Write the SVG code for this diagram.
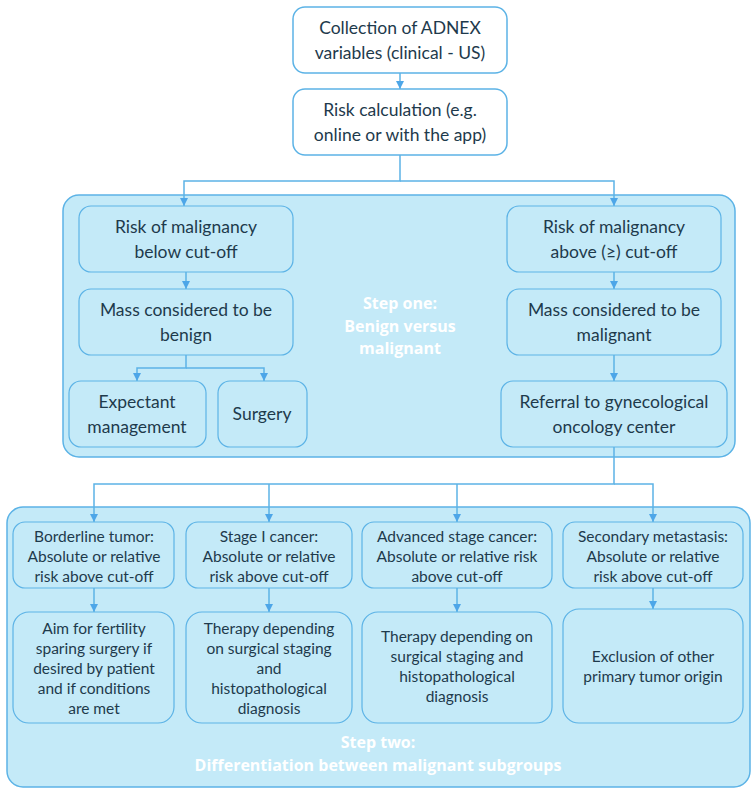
<svg xmlns="http://www.w3.org/2000/svg" width="755" height="793" viewBox="0 0 755 793">
<defs>
<marker id="ah" markerWidth="8" markerHeight="8" refX="8" refY="4" orient="auto" markerUnits="userSpaceOnUse" viewBox="0 0 8 8">
<path d="M0,0 L8,4 L0,8 Z" fill="#4da6e8"/>
</marker>
<style>
.cont{fill:#c4eaf8;stroke:#5cb3e6;stroke-width:1.5}
.wb{fill:#ffffff;stroke:#5cb3e6;stroke-width:1.5}
.bb{fill:#c4eaf8;stroke:#5cb3e6;stroke-width:1.2}
.t{font-family:Lato,"Liberation Sans",sans-serif;fill:#1e3a4c;text-anchor:middle}
.l{font-size:17.5px}
.s{font-size:15.5px}
.st{font-family:"Open Sans","Liberation Sans",sans-serif;font-weight:bold;fill:#ffffff;text-anchor:middle;font-size:16px}
.c{fill:none;stroke:#5cb3e6;stroke-width:1.5}
</style>
</defs>
<g id="step-one">
<rect class="cont" x="63" y="195" width="672" height="262" rx="16"/>
<text class="st" x="400" y="309">Step one:</text>
<text class="st" x="400" y="332">Benign versus</text>
<text class="st" x="400" y="354">malignant</text>
</g>
<g id="step-two">
<rect class="cont" x="7" y="507" width="743" height="280" rx="16"/>
<text class="st" x="378" y="748">Step two:</text>
<text class="st" x="378" y="771">Differentiation between malignant subgroups</text>
</g>
<g id="connectors">
<line class="c" x1="400" y1="73" x2="400" y2="89" marker-end="url(#ah)"/>
<polyline class="c" points="400,155 400,181 184,181 184,206" marker-end="url(#ah)"/>
<polyline class="c" points="400,181 614,181 614,206" marker-end="url(#ah)"/>
<line class="c" x1="186" y1="272" x2="186" y2="289" marker-end="url(#ah)"/>
<polyline class="c" points="186,355 186,368 137,368 137,381" marker-end="url(#ah)"/>
<polyline class="c" points="186,368 264,368 264,381" marker-end="url(#ah)"/>
<line class="c" x1="614" y1="272" x2="614" y2="289" marker-end="url(#ah)"/>
<line class="c" x1="614" y1="355" x2="614" y2="381" marker-end="url(#ah)"/>
<polyline class="c" points="614,447 614,484 94,484 94,522" marker-end="url(#ah)"/>
<line class="c" x1="269" y1="484" x2="269" y2="522" marker-end="url(#ah)"/>
<line class="c" x1="457" y1="484" x2="457" y2="522" marker-end="url(#ah)"/>
<polyline class="c" points="614,484 653,484 653,522" marker-end="url(#ah)"/>
<line class="c" x1="94" y1="588" x2="94" y2="612" marker-end="url(#ah)"/>
<line class="c" x1="269" y1="588" x2="269" y2="612" marker-end="url(#ah)"/>
<line class="c" x1="457" y1="588" x2="457" y2="612" marker-end="url(#ah)"/>
<line class="c" x1="653" y1="588" x2="653" y2="609" marker-end="url(#ah)"/>
</g>
<g id="collection">
<rect class="wb" x="293" y="7" width="214" height="66" rx="12"/>
<text class="t l" x="400" y="34">Collection of ADNEX</text>
<text class="t l" x="400" y="59">variables (clinical - US)</text>
</g>
<g id="risk-calc">
<rect class="wb" x="293" y="89" width="214" height="66" rx="12"/>
<text class="t l" x="400" y="116">Risk calculation (e.g.</text>
<text class="t l" x="400" y="141">online or with the app)</text>
</g>
<g id="below">
<rect class="bb" x="79" y="206" width="214" height="66" rx="12"/>
<text class="t l" x="186" y="233">Risk of malignancy</text>
<text class="t l" x="186" y="258">below cut-off</text>
</g>
<g id="benign">
<rect class="bb" x="79" y="289" width="214" height="66" rx="12"/>
<text class="t l" x="186" y="316">Mass considered to be</text>
<text class="t l" x="186" y="341">benign</text>
</g>
<g id="expectant">
<rect class="bb" x="69" y="381" width="137" height="66" rx="12"/>
<text class="t l" x="137" y="408">Expectant</text>
<text class="t l" x="137" y="433">management</text>
</g>
<g id="surgery">
<rect class="bb" x="218" y="381" width="89" height="66" rx="12"/>
<text class="t l" x="262" y="420">Surgery</text>
</g>
<g id="above">
<rect class="bb" x="507" y="206" width="214" height="66" rx="12"/>
<text class="t l" x="614" y="233">Risk of malignancy</text>
<text class="t l" x="614" y="258">above (≥) cut-off</text>
</g>
<g id="malignant">
<rect class="bb" x="507" y="289" width="214" height="66" rx="12"/>
<text class="t l" x="614" y="316">Mass considered to be</text>
<text class="t l" x="614" y="341">malignant</text>
</g>
<g id="referral">
<rect class="bb" x="501" y="381" width="226" height="66" rx="12"/>
<text class="t l" x="614" y="408">Referral to gynecological</text>
<text class="t l" x="614" y="433">oncology center</text>
</g>
<g id="borderline">
<rect class="bb" x="13" y="522" width="161" height="66" rx="12"/>
<text class="t s" x="94" y="542">Borderline tumor:</text>
<text class="t s" x="94" y="562">Absolute or relative</text>
<text class="t s" x="94" y="582">risk above cut-off</text>
</g>
<g id="stage1">
<rect class="bb" x="186" y="522" width="166" height="66" rx="12"/>
<text class="t s" x="269" y="542">Stage I cancer:</text>
<text class="t s" x="269" y="562">Absolute or relative</text>
<text class="t s" x="269" y="582">risk above cut-off</text>
</g>
<g id="advanced">
<rect class="bb" x="362" y="522" width="190" height="66" rx="12"/>
<text class="t s" x="457" y="542">Advanced stage cancer:</text>
<text class="t s" x="457" y="562">Absolute or relative risk</text>
<text class="t s" x="457" y="582">above cut-off</text>
</g>
<g id="secondary">
<rect class="bb" x="563" y="522" width="180" height="66" rx="12"/>
<text class="t s" x="653" y="542">Secondary metastasis:</text>
<text class="t s" x="653" y="562">Absolute or relative</text>
<text class="t s" x="653" y="582">risk above cut-off</text>
</g>
<g id="fertility">
<rect class="bb" x="13" y="612" width="161" height="111" rx="16"/>
<text class="t s" x="94" y="634">Aim for fertility</text>
<text class="t s" x="94" y="654">sparing surgery if</text>
<text class="t s" x="94" y="674">desired by patient</text>
<text class="t s" x="94" y="694">and if conditions</text>
<text class="t s" x="94" y="714">are met</text>
</g>
<g id="therapy1">
<rect class="bb" x="186" y="612" width="166" height="111" rx="16"/>
<text class="t s" x="269" y="634">Therapy depending</text>
<text class="t s" x="269" y="654">on surgical staging</text>
<text class="t s" x="269" y="674">and</text>
<text class="t s" x="269" y="694">histopathological</text>
<text class="t s" x="269" y="714">diagnosis</text>
</g>
<g id="therapy2">
<rect class="bb" x="362" y="612" width="190" height="111" rx="16"/>
<text class="t s" x="457" y="642">Therapy depending on</text>
<text class="t s" x="457" y="662">surgical staging and</text>
<text class="t s" x="457" y="682">histopathological</text>
<text class="t s" x="457" y="702">diagnosis</text>
</g>
<g id="exclusion">
<rect class="bb" x="563" y="609" width="180" height="114" rx="16"/>
<text class="t s" x="653" y="662">Exclusion of other</text>
<text class="t s" x="653" y="682">primary tumor  origin</text>
</g>
</svg>
